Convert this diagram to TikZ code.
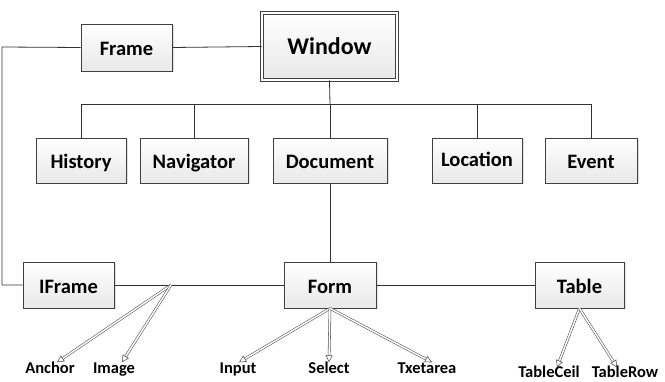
\documentclass[tikz,border=0pt]{standalone}
\usepackage{fontspec}
\setmainfont{Carlito}
\usetikzlibrary{arrows.meta,shadows}
\begin{document}
\begin{tikzpicture}[x=1pt,y=-1pt,
  line/.style={draw=black!80, line width=0.8pt},
  box/.style={draw=black!75, line width=0.8pt, top color=white, bottom color=black!9,
    minimum height=45pt, inner sep=0pt, text height=19pt, text depth=2pt,
    font=\bfseries\fontsize{20.5}{21}\selectfont,
    drop shadow={shadow xshift=1.5pt, shadow yshift=-1.5pt, fill=black!30, opacity=0.4}},
  leaf/.style={inner sep=0pt, text height=12pt, text depth=3pt, font=\bfseries\fontsize{16.5}{17}\selectfont},
  hollow/.style={draw=black!70, line width=0.55pt, double=white, double distance=1.5pt,
    -{Triangle[open, length=7pt, width=7pt]}}]
\useasboundingbox (0,0) rectangle (665,382);
% top
\node[box, minimum width=91pt, minimum height=47pt] (Frame) at (126.5,47.5) {Frame};
\node[box, minimum width=135pt, minimum height=67pt, double, double distance=1.8pt,
      text height=19pt, text depth=3.5pt,
      font=\bfseries\fontsize{24}{25}\selectfont] (Window) at (329.5,46.5) {Window};
% row 2
\node[box, minimum width=90pt] (History) at (81,160.5) {History};
\node[box, minimum width=108pt] (Navigator) at (194,160.5) {Navigator};
\node[box, minimum width=114pt] (Document) at (330,160.5) {Document};
\node[box, minimum width=90pt] (Location) at (477,160.5) {\raisebox{2pt}{Location}};
\node[box, minimum width=92pt] (Event) at (591,160.5) {Event};
% row 3
\node[box, minimum width=91pt, minimum height=46pt] (IFrame) at (68.5,285) {IFrame};
\node[box, minimum width=92pt, minimum height=46pt] (Form) at (330,285) {Form};
\node[box, minimum width=89pt, minimum height=46pt] (Table) at (579.5,285) {Table};
% leaves
\node[leaf] (Anchor) at (50,369) {Anchor};
\node[leaf] (Image) at (114,369) {Image};
\node[leaf] (Input) at (238,369) {Input};
\node[leaf] (Select) at (329,369) {Select};
\node[leaf] (Txetarea) at (427,369) {Txetarea};
\node[leaf] (TableCeil) at (549,373) {TableCeil};
\node[leaf] (TableRow) at (625,373) {TableRow};
\coordinate (bar) at (330,104);
\coordinate (hub) at (171,285);
\coordinate (corner) at (2,47);
% connectors
\draw[line] (Frame.east) -- (Window.west);
\draw[line] (Frame.west) -- (corner) |- (IFrame.west);
\draw[line] (Window.south) -- (bar);
\draw[line] (History.north) -- (History.north |- bar) -- (Event.north |- bar) -- (Event.north);
\draw[line] (Navigator.north) -- (Navigator.north |- bar);
\draw[line] (Document.north) -- (Document.north |- bar);
\draw[line] (Location.north) -- (Location.north |- bar);
\draw[line] (Document.south) -- (Form.north);
\draw[line] (IFrame.east) -- (Form.west);
\draw[line] (Form.east) -- (Table.west);
% hollow arrows
\draw[hollow] (hub) -- ([xshift=7pt,yshift=-1pt]Anchor.north);
\draw[hollow] (hub) -- ([xshift=8pt,yshift=-1pt]Image.north);
\draw[hollow] (Form.south) -- ([xshift=1pt,yshift=-1pt]Input.north);
\draw[hollow] (Form.south) -- ([yshift=-1pt]Select.north);
\draw[hollow] (Form.south) -- ([xshift=5pt,yshift=-1pt]Txetarea.north);
\draw[hollow] (Table.south) -- ([xshift=8pt,yshift=-2pt]TableCeil.north);
\draw[hollow] (Table.south) -- ([xshift=-8pt,yshift=-2pt]TableRow.north);
\end{tikzpicture}
\end{document}
